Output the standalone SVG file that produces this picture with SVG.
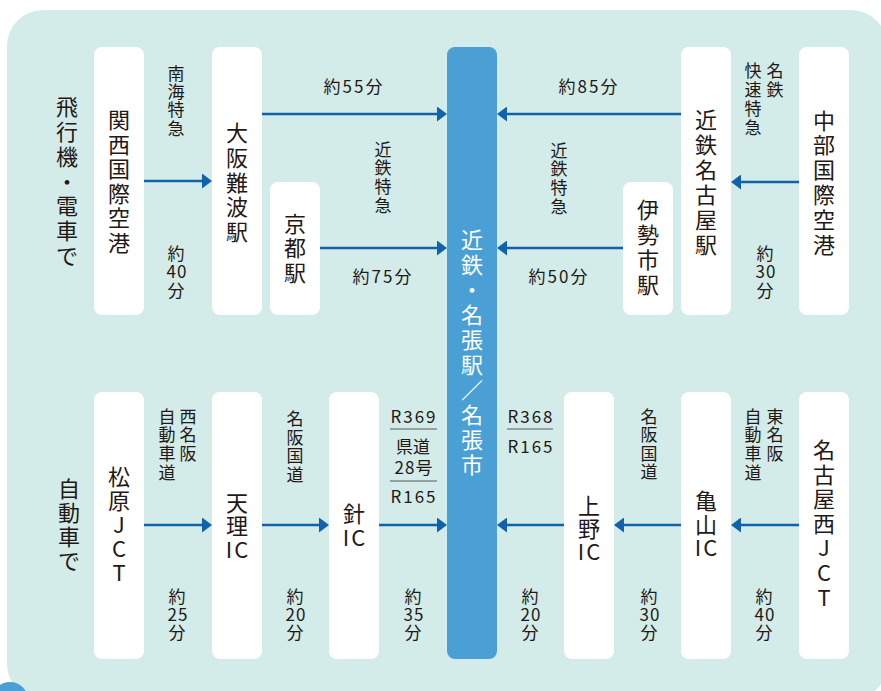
<svg xmlns="http://www.w3.org/2000/svg" width="881" height="691" viewBox="0 0 881 691">
<defs>
<style>
.panel{fill:#d3ecea}
.node{fill:#ffffff}
.bar{fill:#4a9fd5}
text{font-family:"Noto Sans CJK JP","Noto Sans",sans-serif;fill:#231815;text-anchor:middle}
.lg{font-size:22px}
.sm{font-size:17px}
.wt{fill:#ffffff}
.conn{stroke:#1162aa;stroke-width:2.5;fill:none;marker-end:url(#ah)}
.rule{stroke:#595757;stroke-width:1.2}
.ls{letter-spacing:2px}
.ls1{letter-spacing:1px}
</style>
<marker id="ah" viewBox="0 0 10 15" refX="5" refY="7.5" markerWidth="10" markerHeight="15" markerUnits="userSpaceOnUse" orient="auto">
<path d="M0,0 L10,7.5 L0,15 z" fill="#1162aa"/>
</marker>
</defs>
<rect width="881" height="691" fill="#ffffff"/>
<rect class="panel" x="7" y="10" width="880" height="690" rx="36"/>
<circle cx="10" cy="700" r="18" fill="#4a9fd5"/>

<g id="title-air">
<text class="lg" x="67" y="115.4"><tspan x="67">飛</tspan><tspan x="67" dy="24.7">行</tspan><tspan x="67" dy="24.7">機</tspan><tspan x="67" dy="24.7">・</tspan><tspan x="67" dy="24.7">電</tspan><tspan x="67" dy="24.7">車</tspan><tspan x="67" dy="24.7">で</tspan></text>
</g>
<g id="title-car">
<text class="lg" x="69" y="497"><tspan x="69">自</tspan><tspan x="69" dy="24">動</tspan><tspan x="69" dy="24">車</tspan><tspan x="69" dy="24">で</tspan></text>
</g>

<g id="kansai">
<rect class="node" x="94" y="47" width="50" height="268" rx="8"/>
<text class="lg" x="119" y="128"><tspan x="119">関</tspan><tspan x="119" dy="24.5">西</tspan><tspan x="119" dy="24.5">国</tspan><tspan x="119" dy="24.5">際</tspan><tspan x="119" dy="24.5">空</tspan><tspan x="119" dy="24.5">港</tspan></text>
</g>
<g id="namba">
<rect class="node" x="212" y="47" width="50" height="268" rx="8"/>
<text class="lg" x="237" y="141.3"><tspan x="237">大</tspan><tspan x="237" dy="24.6">阪</tspan><tspan x="237" dy="24.6">難</tspan><tspan x="237" dy="24.6">波</tspan><tspan x="237" dy="24.6">駅</tspan></text>
</g>
<g id="kyoto">
<rect class="node" x="270" y="182" width="50" height="133" rx="8"/>
<text class="lg" x="295" y="232"><tspan x="295">京</tspan><tspan x="295" dy="24.4">都</tspan><tspan x="295" dy="24.4">駅</tspan></text>
</g>
<g id="nabari">
<rect class="bar" x="447" y="47" width="50" height="612" rx="8"/>
<text class="lg wt" x="472" y="247.5"><tspan x="472">近</tspan><tspan x="472" dy="25.1">鉄</tspan><tspan x="472" dy="25.1">・</tspan><tspan x="472" dy="25.1">名</tspan><tspan x="472" dy="25.1">張</tspan><tspan x="472" dy="25.1">駅</tspan><tspan x="472" dy="25.1">／</tspan><tspan x="472" dy="25.1">名</tspan><tspan x="472" dy="25.1">張</tspan><tspan x="472" dy="25.1">市</tspan></text>
</g>
<g id="iseshi">
<rect class="node" x="623" y="182" width="50" height="133" rx="8"/>
<text class="lg" x="648" y="218.4"><tspan x="648">伊</tspan><tspan x="648" dy="24.75">勢</tspan><tspan x="648" dy="24.75">市</tspan><tspan x="648" dy="24.75">駅</tspan></text>
</g>
<g id="kintetsu-nagoya">
<rect class="node" x="681" y="47" width="50" height="268" rx="8"/>
<text class="lg" x="706" y="127.5"><tspan x="706">近</tspan><tspan x="706" dy="25">鉄</tspan><tspan x="706" dy="25">名</tspan><tspan x="706" dy="25">古</tspan><tspan x="706" dy="25">屋</tspan><tspan x="706" dy="25">駅</tspan></text>
</g>
<g id="chubu">
<rect class="node" x="799" y="47" width="50" height="268" rx="8"/>
<text class="lg" x="824" y="128.5"><tspan x="824">中</tspan><tspan x="824" dy="24.8">部</tspan><tspan x="824" dy="24.8">国</tspan><tspan x="824" dy="24.8">際</tspan><tspan x="824" dy="24.8">空</tspan><tspan x="824" dy="24.8">港</tspan></text>
</g>

<g id="matsubara">
<rect class="node" x="94" y="392" width="50" height="267" rx="8"/>
<text class="lg" x="119" y="485"><tspan x="119">松</tspan><tspan x="119" dy="24">原</tspan><tspan x="119" dy="24">J</tspan><tspan x="119" dy="24">C</tspan><tspan x="119" dy="24">T</tspan></text>
</g>
<g id="tenri">
<rect class="node" x="212" y="392" width="50" height="267" rx="8"/>
<text class="lg" x="237" y="510.5"><tspan x="237">天</tspan><tspan x="237" dy="23.7">理</tspan><tspan x="238" dy="23.7" class="ls">IC</tspan></text>
</g>
<g id="hari">
<rect class="node" x="329" y="392" width="50" height="267" rx="8"/>
<text class="lg" x="354" y="522"><tspan x="354">針</tspan><tspan x="355" dy="23.5" class="ls">IC</tspan></text>
</g>
<g id="ueno">
<rect class="node" x="564" y="392" width="50" height="267" rx="8"/>
<text class="lg" x="589" y="514"><tspan x="589">上</tspan><tspan x="589" dy="23">野</tspan><tspan x="590" dy="23" class="ls">IC</tspan></text>
</g>
<g id="kameyama">
<rect class="node" x="681" y="392" width="50" height="267" rx="8"/>
<text class="lg" x="706" y="509"><tspan x="706">亀</tspan><tspan x="706" dy="23.7">山</tspan><tspan x="707" dy="23.7" class="ls">IC</tspan></text>
</g>
<g id="nagoya-nishi">
<rect class="node" x="799" y="392" width="50" height="267" rx="8"/>
<text class="lg" x="824" y="458"><tspan x="824">名</tspan><tspan x="824" dy="24.6">古</tspan><tspan x="824" dy="24.6">屋</tspan><tspan x="824" dy="24.6">西</tspan><tspan x="824" dy="24.6">J</tspan><tspan x="824" dy="24.6">C</tspan><tspan x="824" dy="24.6">T</tspan></text>
</g>

<g id="connectors">
<line class="conn" x1="144" y1="181" x2="207" y2="181"/>
<line class="conn" x1="262" y1="114" x2="442" y2="114"/>
<line class="conn" x1="320" y1="248" x2="442" y2="248"/>
<line class="conn" x1="681" y1="114" x2="502" y2="114"/>
<line class="conn" x1="623" y1="248" x2="502" y2="248"/>
<line class="conn" x1="799" y1="182" x2="736" y2="182"/>
<line class="conn" x1="144" y1="525" x2="207" y2="525"/>
<line class="conn" x1="262" y1="525" x2="324" y2="525"/>
<line class="conn" x1="379" y1="525" x2="442" y2="525"/>
<line class="conn" x1="564" y1="525" x2="502" y2="525"/>
<line class="conn" x1="681" y1="525" x2="619" y2="525"/>
<line class="conn" x1="799" y1="525" x2="736" y2="525"/>
</g>

<g id="labels">
<text class="sm" x="176" y="79.6"><tspan x="176">南</tspan><tspan x="176" dy="18.3">海</tspan><tspan x="176" dy="18.3">特</tspan><tspan x="176" dy="18.3">急</tspan></text>
<text class="sm" x="176" y="259.5"><tspan x="176">約</tspan><tspan x="177" dy="18.5" class="ls1">40</tspan><tspan x="176" dy="18.5">分</tspan></text>
<text class="sm ls" x="354" y="93">約55分</text>
<text class="sm" x="383" y="155.5"><tspan x="383">近</tspan><tspan x="383" dy="18.7">鉄</tspan><tspan x="383" dy="18.7">特</tspan><tspan x="383" dy="18.7">急</tspan></text>
<text class="sm ls" x="383" y="283">約75分</text>
<text class="sm ls" x="589" y="93">約85分</text>
<text class="sm" x="559" y="156.5"><tspan x="559">近</tspan><tspan x="559" dy="18.7">鉄</tspan><tspan x="559" dy="18.7">特</tspan><tspan x="559" dy="18.7">急</tspan></text>
<text class="sm ls" x="559" y="283">約50分</text>
<text class="sm" x="775" y="76.5"><tspan x="775">名</tspan><tspan x="775" dy="19">鉄</tspan></text>
<text class="sm" x="753" y="76.5"><tspan x="753">快</tspan><tspan x="753" dy="19">速</tspan><tspan x="753" dy="19">特</tspan><tspan x="753" dy="19">急</tspan></text>
<text class="sm" x="765" y="259.5"><tspan x="765">約</tspan><tspan x="766" dy="18.5" class="ls1">30</tspan><tspan x="765" dy="18.5">分</tspan></text>

<text class="sm" x="188" y="422.5"><tspan x="188">西</tspan><tspan x="188" dy="18.5">名</tspan><tspan x="188" dy="18.5">阪</tspan></text>
<text class="sm" x="167" y="422.5"><tspan x="167">自</tspan><tspan x="167" dy="18.7">動</tspan><tspan x="167" dy="18.7">車</tspan><tspan x="167" dy="18.7">道</tspan></text>
<text class="sm" x="177" y="602.5"><tspan x="177">約</tspan><tspan x="178" dy="18.3" class="ls1">25</tspan><tspan x="177" dy="18.3">分</tspan></text>
<text class="sm" x="295" y="425"><tspan x="295">名</tspan><tspan x="295" dy="18.5">阪</tspan><tspan x="295" dy="18.5">国</tspan><tspan x="295" dy="18.5">道</tspan></text>
<text class="sm" x="295" y="602.5"><tspan x="295">約</tspan><tspan x="296" dy="18.3" class="ls1">20</tspan><tspan x="295" dy="18.3">分</tspan></text>
<text class="sm ls" x="414" y="423">R369</text>
<line class="rule" x1="390" y1="429" x2="437" y2="429"/>
<text class="sm" x="413" y="453">県道</text>
<text class="sm ls1" x="414" y="474">28号</text>
<line class="rule" x1="390" y1="481" x2="437" y2="481"/>
<text class="sm ls" x="414" y="503">R165</text>
<text class="sm" x="413" y="602.5"><tspan x="413">約</tspan><tspan x="414" dy="18.3" class="ls1">35</tspan><tspan x="413" dy="18.3">分</tspan></text>
<text class="sm ls" x="531" y="423">R368</text>
<line class="rule" x1="507" y1="429" x2="553" y2="429"/>
<text class="sm ls" x="531" y="453">R165</text>
<text class="sm" x="530" y="602.5"><tspan x="530">約</tspan><tspan x="531" dy="18.3" class="ls1">20</tspan><tspan x="530" dy="18.3">分</tspan></text>
<text class="sm" x="649" y="422.5"><tspan x="649">名</tspan><tspan x="649" dy="18.5">阪</tspan><tspan x="649" dy="18.5">国</tspan><tspan x="649" dy="18.5">道</tspan></text>
<text class="sm" x="649" y="602.5"><tspan x="649">約</tspan><tspan x="650" dy="18.3" class="ls1">30</tspan><tspan x="649" dy="18.3">分</tspan></text>
<text class="sm" x="775" y="422.5"><tspan x="775">東</tspan><tspan x="775" dy="18.5">名</tspan><tspan x="775" dy="18.5">阪</tspan></text>
<text class="sm" x="753" y="422.5"><tspan x="753">自</tspan><tspan x="753" dy="18.7">動</tspan><tspan x="753" dy="18.7">車</tspan><tspan x="753" dy="18.7">道</tspan></text>
<text class="sm" x="764" y="602.5"><tspan x="764">約</tspan><tspan x="765" dy="18.3" class="ls1">40</tspan><tspan x="764" dy="18.3">分</tspan></text>
</g>
</svg>
